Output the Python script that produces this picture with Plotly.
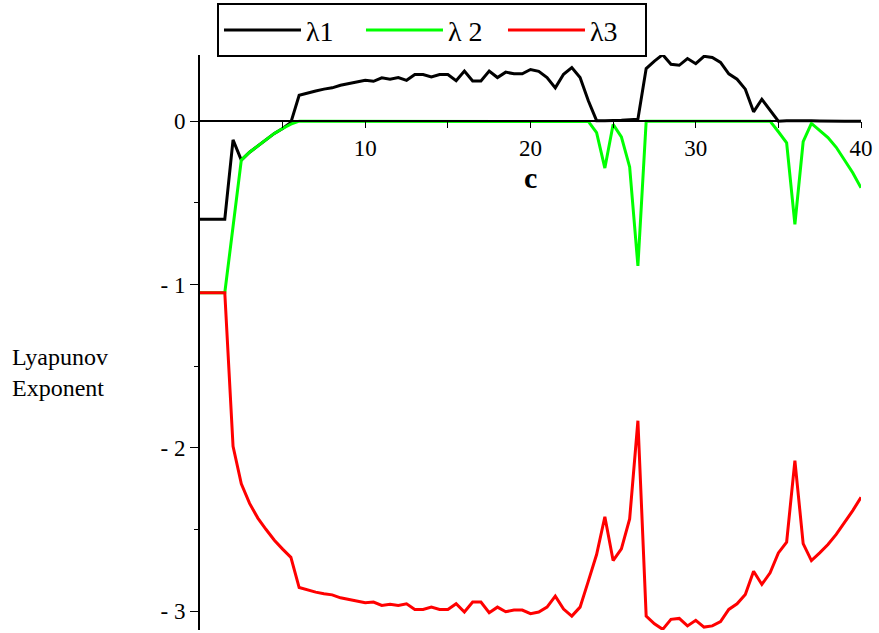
import plotly.graph_objects as go

c_values = [0, 0.5, 1, 1.5, 2, 2.5, 3, 3.5, 4, 4.5, 5, 5.5, 6, 6.5, 7, 7.5, 8, 8.5, 9, 9.5,
            10, 10.5, 11, 11.5, 12, 12.5, 13, 13.5, 14, 14.5, 15, 15.5, 16, 16.5, 17, 17.5, 18, 18.5, 19, 19.5,
            20, 20.5, 21, 21.5, 22, 22.5, 23, 23.5, 24, 24.5, 25, 25.5, 26, 26.5, 27, 27.5, 28, 28.5, 29, 29.5,
            30, 30.5, 31, 31.5, 32, 32.5, 33, 33.5, 34, 34.5, 35, 35.5, 36, 36.5, 37, 37.5, 38, 38.5, 39, 39.5, 40]

lambda1 = [-0.6, -0.6, -0.6, -0.6, -0.115, -0.238, -0.19, -0.15, -0.11, -0.075, -0.045, -0.008, 0.158, 0.173, 0.185, 0.196, 0.204, 0.22, 0.23, 0.24,
           0.25, 0.244, 0.265, 0.257, 0.267, 0.25, 0.285, 0.285, 0.271, 0.285, 0.285, 0.248, 0.307, 0.246, 0.246, 0.307, 0.267, 0.30, 0.29, 0.29,
           0.316, 0.305, 0.267, 0.204, 0.287, 0.328, 0.267, 0.125, 0.003, 0.003, 0.003, 0.005, 0.008, 0.012, 0.322, 0.368, 0.407, 0.348, 0.342, 0.383,
           0.352, 0.397, 0.39, 0.36, 0.29, 0.257, 0.196, 0.057, 0.134, 0.07, 0.0, 0.002, 0.003, 0.001, 0.002, 0.001, 0.002, 0.001, 0.0, 0.0, 0.0]

lambda2 = [-1.05, -1.05, -1.05, -1.05, -0.645, -0.238, -0.19, -0.15, -0.11, -0.075, -0.045, -0.018, 0.0, 0.0, 0.0, 0.0, 0.0, 0.0, 0.0, 0.0,
           0.0, 0.0, 0.0, 0.0, 0.0, 0.0, 0.0, 0.0, 0.0, 0.0, 0.0, 0.0, 0.0, 0.0, 0.0, 0.0, 0.0, 0.0, 0.0, 0.0,
           0.0, 0.0, 0.0, 0.0, 0.0, 0.0, 0.0, -0.002, -0.07, -0.287, -0.02, -0.096, -0.28, -0.886, 0.0, 0.0, 0.0, 0.0, 0.0, 0.0,
           0.0, 0.0, 0.0, 0.0, 0.0, 0.0, 0.0, 0.0, 0.0, 0.0, -0.065, -0.133, -0.632, -0.126, -0.014, -0.06, -0.10, -0.16, -0.234, -0.316, -0.408]

lambda3 = [-1.05, -1.05, -1.05, -1.05, -1.99, -2.22, -2.34, -2.43, -2.50, -2.565, -2.62, -2.67, -2.855, -2.871, -2.883, -2.893, -2.90, -2.918, -2.928, -2.938,
           -2.948, -2.944, -2.965, -2.958, -2.965, -2.955, -2.989, -2.989, -2.975, -2.989, -2.989, -2.954, -3.005, -2.944, -2.944, -3.009, -2.975, -3.003, -2.993, -2.993,
           -3.015, -3.005, -2.975, -2.908, -2.987, -3.03, -2.975, -2.816, -2.653, -2.422, -2.69, -2.618, -2.435, -1.834, -3.03, -3.077, -3.111, -3.05, -3.044, -3.09,
           -3.056, -3.097, -3.09, -3.064, -2.989, -2.955, -2.897, -2.755, -2.836, -2.765, -2.643, -2.577, -2.078, -2.586, -2.69, -2.643, -2.592, -2.53, -2.459, -2.384, -2.303]

series_names = ["λ1", "λ 2", "λ3"]
series_colors = ["#000000", "#00ff00", "#ff0000"]

x_tick_vals = [10, 20, 30, 40]
x_tick_text = ["10", "20", "30", "40"]
x_minor_vals = [5, 15, 25, 35]
y_tick_vals = [0, -1, -2, -3]
y_tick_text = ["0", "- 1", "- 2", "- 3"]
y_minor_vals = [-0.5, -1.5, -2.5]

FONT = "'Liberation Serif', 'Times New Roman', Times, serif"
y_lo, y_hi = -3.115, 0.405

fig = go.Figure()
for name, ys, col in zip(series_names, [lambda1, lambda2, lambda3], series_colors):
    fig.add_trace(go.Scatter(x=c_values, y=ys, mode="lines", name=name,
                             line=dict(color=col, width=3)))

fig.update_layout(
    width=879, height=633,
    margin=dict(l=200, r=18, t=55, b=3),
    paper_bgcolor="white", plot_bgcolor="white",
    font=dict(family=FONT, color="black", size=20),
    showlegend=True,
    legend=dict(orientation="h", x=0.0257, y=1.09, xanchor="left", yanchor="top",
                bordercolor="black", borderwidth=2, bgcolor="white",
                font=dict(family=FONT, size=28), itemwidth=77,
                entrywidth=50, entrywidthmode="pixels"),
    xaxis=dict(range=[0, 40], anchor="free", position=(0 - y_lo) / (y_hi - y_lo),
               showline=True, linecolor="black", linewidth=1.5, showgrid=False, zeroline=False,
               tickmode="array", tickvals=x_tick_vals, ticktext=x_tick_text,
               ticks="outside", ticklen=6, tickwidth=1, tickcolor="black",
               minor=dict(tickvals=x_minor_vals, ticks="outside", ticklen=6, tickwidth=1, tickcolor="black"),
               tickfont=dict(family=FONT, size=23)),
    yaxis=dict(range=[y_lo, y_hi], showline=True, linecolor="black", linewidth=2,
               showgrid=False, zeroline=False,
               tickmode="array", tickvals=y_tick_vals, ticktext=y_tick_text,
               ticks="outside", ticklen=8, tickwidth=1, tickcolor="black",
               minor=dict(tickvals=y_minor_vals, ticks="outside", ticklen=4, tickwidth=1, tickcolor="black"),
               tickfont=dict(family=FONT, size=23)),
    annotations=[
        dict(text="<b>c</b>", x=20, y=-0.345, xref="x", yref="y", showarrow=False,
             font=dict(family=FONT, size=30), xanchor="center", yanchor="middle"),
        dict(text="Lyapunov<br>Exponent", x=(10 - 200) / 661, y=-1.536, xref="paper", yref="y",
             showarrow=False, align="left", xanchor="left", yanchor="middle",
             font=dict(family=FONT, size=24)),
    ],
)

fig.write_html("out.html", config={"displayModeBar": False},
               post_script="document.body.style.margin='0px';")
